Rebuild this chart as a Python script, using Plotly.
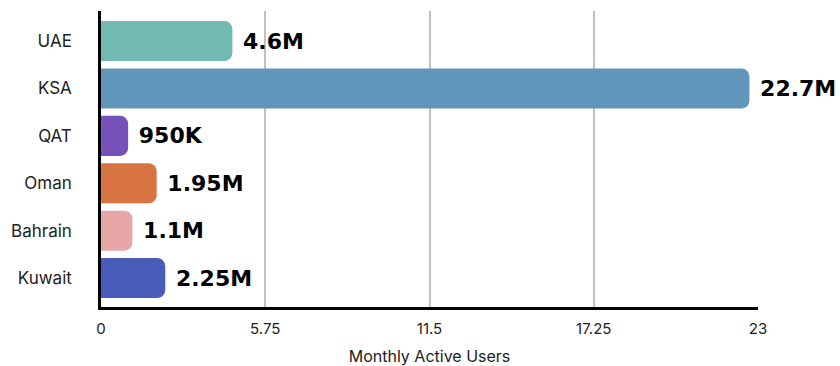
import plotly.graph_objects as go

countries = ["UAE", "KSA", "QAT", "Oman", "Bahrain", "Kuwait"]
users_m = [4.6, 22.7, 0.95, 1.95, 1.1, 2.25]
labels = ["4.6M", "22.7M", "950K", "1.95M", "1.1M", "2.25M"]
colors = ["#72B9B2", "#5F96BA", "#7551B9", "#D87442", "#E8A7A7", "#4A5CB9"]
x_ticks = [0, 5.75, 11.5, 17.25, 23]
x_ticklabels = ["0", "5.75", "11.5", "17.25", "23"]

fig = go.Figure()
fig.add_trace(go.Bar(
    y=countries, x=users_m, orientation="h",
    marker=dict(color=colors, cornerradius=8, line=dict(width=0)),
    text=[" " + t for t in labels], textposition="outside",
    textfont=dict(family="DejaVu Sans", size=22, color="#000000", weight="bold"),
    cliponaxis=False, showlegend=False, hoverinfo="skip",
))

fig.update_layout(
    width=840, height=366,
    margin=dict(l=101, r=82, t=11, b=59),
    plot_bgcolor="white", paper_bgcolor="white",
    bargap=0.155,
    font=dict(family="Inter", size=15, color="#222222"),
)
fig.update_xaxes(
    range=[0, 23], tickvals=x_ticks, ticktext=x_ticklabels,
    showgrid=True, gridcolor="#C0C0C0", gridwidth=2,
    showline=True, linecolor="#000000", linewidth=2.5,
    zeroline=False, ticks="", ticklabelstandoff=6,
    tickfont=dict(family="Inter", size=15, color="#222222"),
    title=dict(text="Monthly Active Users", standoff=16,
               font=dict(family="Inter", size=16, color="#222222")),
    automargin=False, fixedrange=True,
)
fig.update_yaxes(
    categoryorder="array", categoryarray=countries,
    range=[5.61, -0.635],
    showgrid=False, showline=True, linecolor="#000000", linewidth=2.5,
    ticks="", ticklabelstandoff=23,
    tickfont=dict(family="Inter", size=17, color="#222222"),
    automargin=False, fixedrange=True,
)

fig.write_html("out.html")
